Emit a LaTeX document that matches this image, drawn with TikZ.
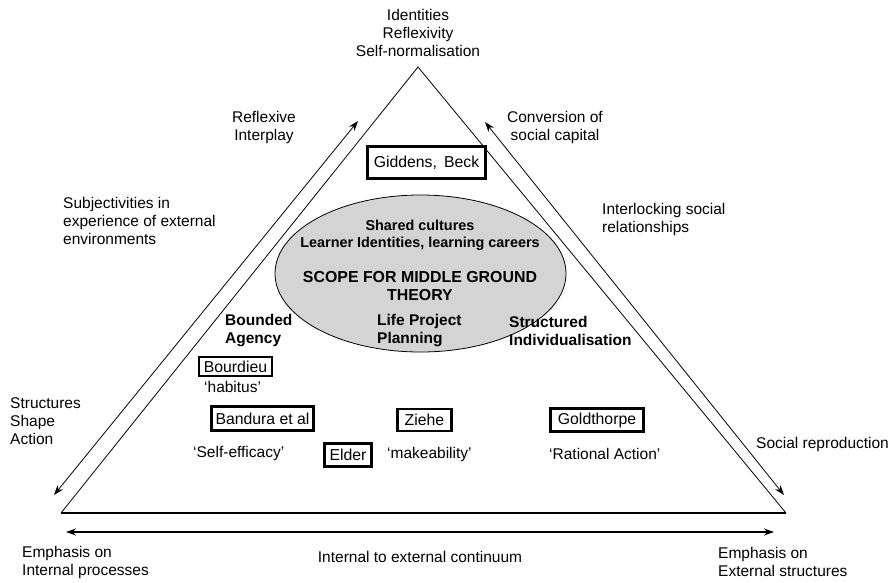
\documentclass[tikz,border=0pt]{standalone}
\usepackage{fontspec}
\setmainfont{Liberation Sans}
\usetikzlibrary{arrows.meta,shapes.geometric}
\begin{document}
\begin{tikzpicture}[x=1pt,y=-1pt,
  txt/.style={font=\fontsize{15.5}{18}\selectfont, inner sep=0pt, align=left},
  ctxt/.style={txt, align=center},
  btxt/.style={font=\fontsize{15.5}{18}\selectfont\bfseries, inner sep=0pt, align=left},
  sbtxt/.style={font=\fontsize{14.4}{18}\selectfont\bfseries, inner sep=0pt, align=center},
  author/.style={draw=black, font=\fontsize{15.8}{18}\selectfont, inner sep=0pt, line width=#1},
  author/.default=2.7pt,
  side/.style={line width=0.8pt},
  dbl/.style={line width=0.8pt, {Stealth[length=10pt,width=7pt]}-{Stealth[length=10pt,width=7pt]}}
]
\useasboundingbox (0,0) rectangle (891,582);

% triangle
\coordinate (apex) at (418,67);
\coordinate (bl) at (61,513);
\coordinate (br) at (786,513);
\draw[side] (bl) -- (apex) -- (br);
\draw[line width=1.9pt] (bl) -- (br);

% ellipse
\node (ell) [draw=black, line width=0.8pt, fill=black!17, ellipse, minimum width=291pt, minimum height=157pt, inner sep=0pt] at (420.5,273.5) {};

% arrows
\coordinate (la1) at (54,495);
\coordinate (la2) at (358,121);
\coordinate (ra1) at (485,122);
\coordinate (ra2) at (784,495);
\coordinate (ha1) at (66,532);
\coordinate (ha2) at (774,532);
\draw[dbl] (la1) -- (la2);
\draw[dbl] (ra1) -- (ra2);
\draw[dbl, line width=1.3pt] (ha1) -- (ha2);

% texts
\node (top) [ctxt] at (418,33) {Identities\\Reflexivity\\Self-normalisation};
\node (refl) [ctxt] at (264,127.5) {Reflexive\\Interplay};
\node (conv) [ctxt] at (555,127.5) {Conversion of\\social capital};
\node (subj) [txt, anchor=west] at (63,221) {Subjectivities in\\experience of external\\environments};
\node (inter) [txt, anchor=west] at (602,219) {Interlocking social\\relationships};

\node (gb) [author=3.2pt, minimum width=118pt, minimum height=32pt] at (426.5,162.5) {Giddens,\hspace{0.45em}Beck};

\node (shared) [sbtxt] at (420,225) {Shared cultures};
\node (learner) [sbtxt] at (420,244) {Learner Identities, learning careers};
\node (scope) [font=\fontsize{15.9}{18}\selectfont\bfseries, inner sep=0pt, align=center] at (420,286) {SCOPE FOR MIDDLE GROUND\\THEORY};

\node (bounded) [btxt, anchor=west] at (225,330.5) {Bounded\\Agency};
\node (life) [btxt, anchor=west] at (377,330.5) {Life Project\\Planning};
\node (struct) [btxt, anchor=west] at (509,330.5) {Structured\\Individualisation};

\node (bourdieu) [author=1.7pt, minimum width=73pt, minimum height=19pt] at (235.5,366.5) {Bourdieu};
\node (habitus) [txt, anchor=west] at (204,387) {‘habitus’};
\node (ssa) [txt, anchor=west] at (10,421) {Structures\\Shape\\Action};
\node (bandura) [author, minimum width=102pt, minimum height=24pt] at (262.5,418.5) {Bandura et al};
\node (ziehe) [author, minimum width=54pt, minimum height=22pt] at (424.5,420) {Ziehe};
\node (gold) [author, minimum width=93pt, minimum height=23pt] at (597,420) {Goldthorpe};
\node (selfeff) [txt, anchor=west] at (193,453) {‘Self-efficacy’};
\node (elder) [author, minimum width=47pt, minimum height=23pt] at (348,455) {Elder};
\node (make) [txt, anchor=west] at (387,454) {‘makeability’};
\node (rat) [txt, anchor=west] at (549,454) {‘Rational Action’};
\node (socrep) [txt, anchor=west] at (756,444) {Social reproduction};

\node (empint) [txt, anchor=west] at (22,562) {Emphasis on\\Internal processes};
\node (cont) [ctxt] at (420,557) {Internal to external continuum};
\node (empext) [txt, anchor=west] at (718,562) {Emphasis on\\External structures};
\end{tikzpicture}
\end{document}
